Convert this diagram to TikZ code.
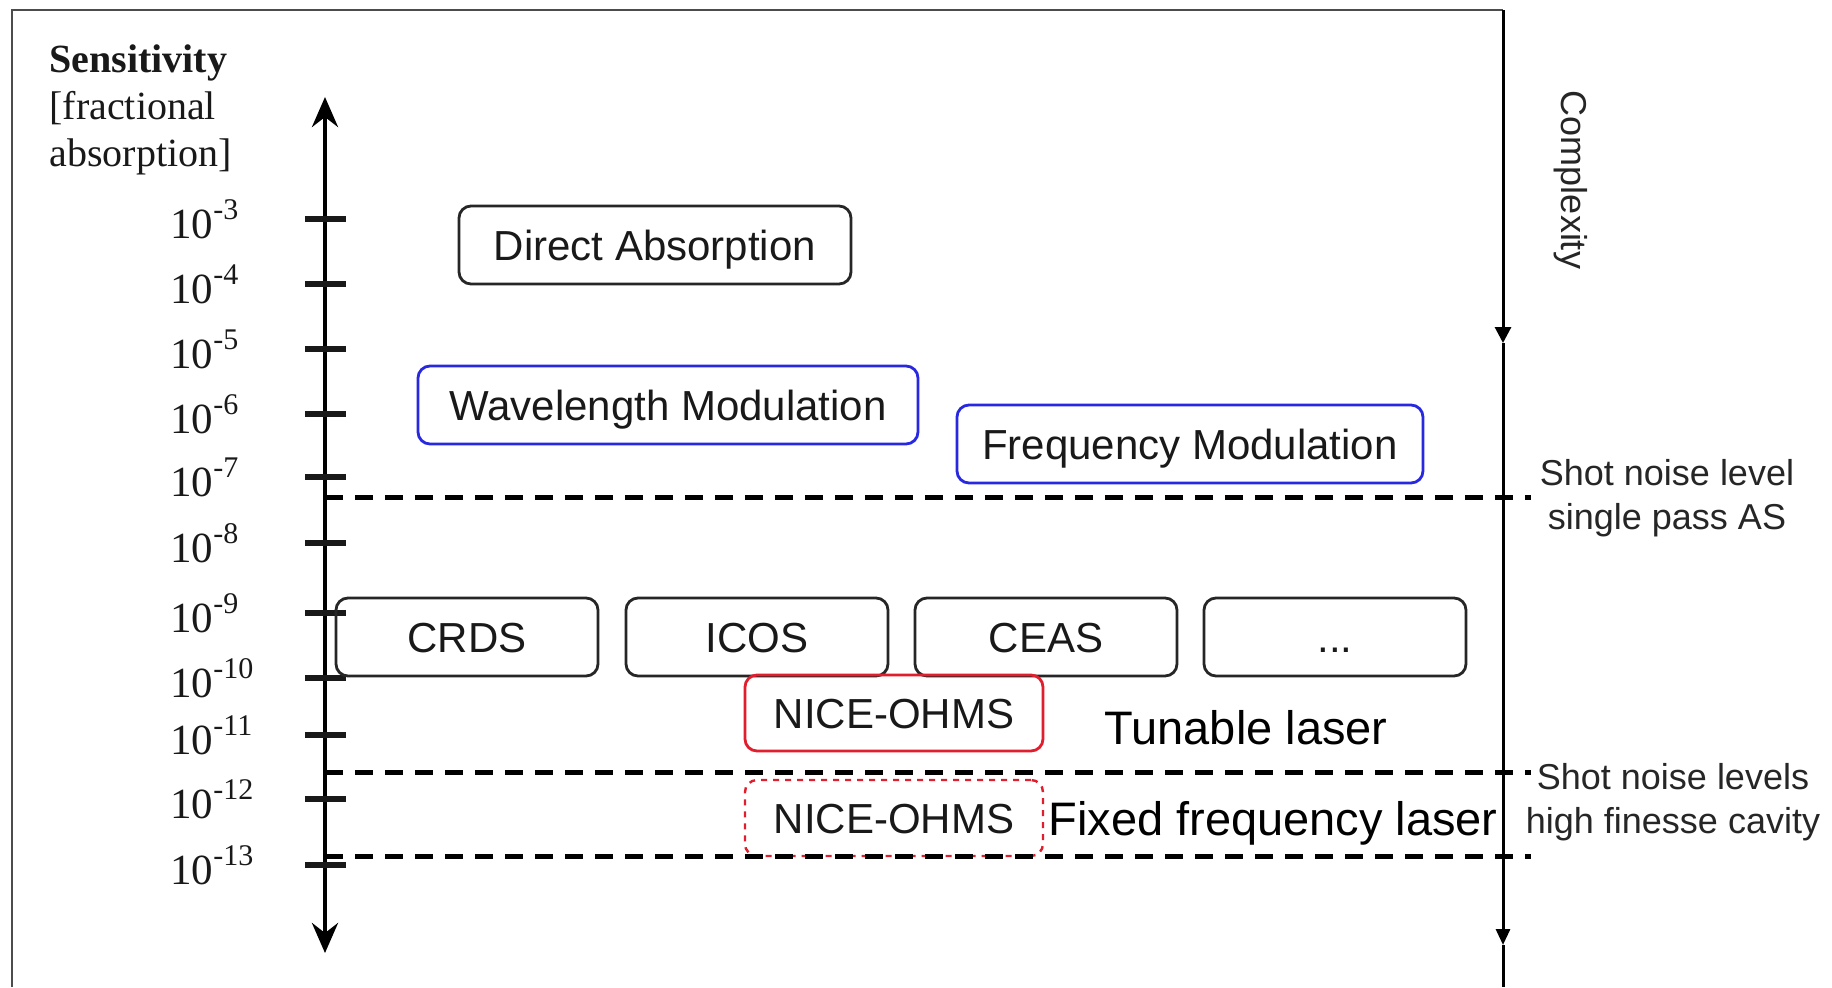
\documentclass[tikz,border=0pt]{standalone}
\usepackage{fontspec}
\setmainfont{Liberation Serif}
\newfontfamily\arial{Liberation Sans}
\usetikzlibrary{arrows.meta}
\definecolor{bblue}{RGB}{40,40,225}
\definecolor{rred}{RGB}{225,30,45}
\begin{document}
\begin{tikzpicture}[x=0.5pt,y=-0.5pt,
  boxstyle/.style={draw=black!85, line width=1.4pt, rounded corners=6pt, minimum height=39pt, inner sep=0pt, text height=15pt, text depth=0pt, font=\arial\fontsize{21}{25}\selectfont, text=black!90},
  ticklbl/.style={anchor=base west, inner sep=0pt, font=\fontsize{21.5}{24}\selectfont, text=black!90},
  tickmark/.style={line width=2.6pt, black!90},
  thicktick/.style={line width=3.2pt, black!90},
  levelline/.style={line width=2.5pt, dash pattern=on 9pt off 6pt, black},
  sidetext/.style={align=center, font=\arial\fontsize{18}{22.2}\selectfont, text=black!85, inner sep=0pt},
  lasertext/.style={font=\arial\fontsize{23.5}{26}\selectfont, text=black, inner sep=0pt, text height=17pt, text depth=0pt},
  titletext/.style={anchor=base west, inner sep=0pt, font=\fontsize{20}{24}\selectfont, text=black!90}
]
\useasboundingbox (0,0) rectangle (1832,987);
\fill[white] (0,0) rectangle (1832,987);
% frame
\coordinate (fbl) at (12,987);
\coordinate (ftl) at (12,10);
\coordinate (ctop) at (1503,10);
\draw[line width=1pt, black!70] (fbl) -- (ftl) -- (ctop);
% complexity axis
\coordinate (cmid) at (1503,343);
\coordinate (cbot) at (1503,945);
\coordinate (cend) at (1503,987);
\draw[line width=1.5pt, -{Triangle[length=8pt,width=8pt]}] (ctop) -- (cmid);
\draw[line width=1.5pt, -{Triangle[length=8pt,width=7pt]}] (cmid) -- (cbot);
\draw[line width=1.5pt] (cbot) -- (cend);
\node[sidetext, rotate=-90] (cplx) at (1571,180) {Complexity};
% title
\node[titletext, font=\bfseries\fontsize{20}{24}\selectfont] (t1) at (49,72) {Sensitivity};
\node[titletext] (t2) at (49,119) {[fractional};
\node[titletext] (t3) at (49,166) {absorption]};
% main axis
\coordinate (axtop) at (325,97);
\coordinate (axbot) at (325,953);
\draw[line width=2.2pt, {Stealth[length=15pt,width=13pt,inset=5pt]}-{Stealth[length=15pt,width=13pt,inset=5pt]}] (axbot) -- (axtop);
% ticks and labels
\foreach \yy/\ee/\st in {219/3/thicktick,284/4/tickmark,349/5/tickmark,414/6/tickmark,477/7/thicktick,543/8/tickmark,613/9/thicktick,678/10/thicktick,735/11/tickmark,799/12/tickmark,865/13/thicktick}{
  \draw[\st] (305,\yy) -- (346,\yy);
  \node[ticklbl] (lbl\ee) at (170,\yy+19) {10\raisebox{0.42em}{\fontsize{15}{15}\selectfont -\ee}};
}
% level lines
\coordinate (d1a) at (325,497); \coordinate (d1b) at (1531,497);
\coordinate (d2a) at (325,772); \coordinate (d2b) at (1531,772);
\coordinate (d3a) at (325,856); \coordinate (d3b) at (1531,856);
% boxes
\node[boxstyle, minimum width=196pt] (da) at (655,245) {Direct Absorption};
\node[boxstyle, draw=bblue, minimum width=250pt] (wm) at (668,405) {Wavelength Modulation};
\node[boxstyle, draw=bblue, minimum width=233pt] (fm) at (1190,444) {Frequency Modulation};
\node[boxstyle, minimum width=131pt] (crds) at (467,637) {CRDS};
\node[boxstyle, minimum width=131pt] (icos) at (757,637) {ICOS};
\node[boxstyle, minimum width=131pt] (ceas) at (1046,637) {CEAS};
\node[boxstyle, minimum width=131pt] (more) at (1335,637) {...};
\node[boxstyle, draw=rred, minimum width=149pt, minimum height=38pt] (no1) at (894,713) {NICE-OHMS};
\node[boxstyle, draw=rred, line width=1.2pt, dashed, minimum width=149pt, minimum height=38pt] (no2) at (894,818) {NICE-OHMS};
\draw[levelline] (d1a) -- (d1b);
\draw[levelline] (d2a) -- (d2b);
\draw[levelline] (d3a) -- (d3b);
% labels
\node[lasertext] (tl) at (1246,727) {Tunable laser};
\node[lasertext] (ffl) at (1273,818) {Fixed frequency laser};
\node[sidetext] (sn1) at (1667,498) {Shot noise level\\single pass AS};
\node[sidetext] (sn2) at (1673,802) {Shot noise levels\\high finesse cavity};
\end{tikzpicture}
\end{document}
